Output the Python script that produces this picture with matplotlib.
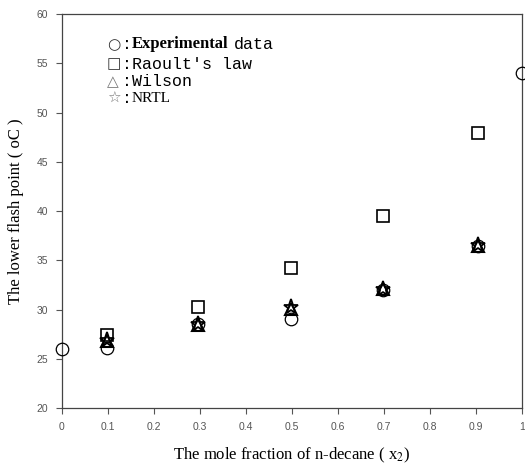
import matplotlib.pyplot as plt

plt.rcParams['mathtext.fontset'] = 'stix'

# data
x_exp = [0.0, 0.097, 0.295, 0.497, 0.697, 0.904, 1.0]
y_exp = [26.0, 26.1, 28.5, 29.0, 32.0, 36.5, 54.0]

x_calc = [0.097, 0.295, 0.497, 0.697, 0.904]
y_raoult = [27.4, 30.3, 34.2, 39.5, 47.9]
y_wilson = [26.8, 28.4, 30.1, 32.1, 36.5]
y_nrtl = [26.9, 28.5, 30.3, 32.1, 36.6]

xticks = [0, 0.1, 0.2, 0.3, 0.4, 0.5, 0.6, 0.7, 0.8, 0.9, 1]
xtick_labels = ['0', '0.1', '0.2', '0.3', '0.4', '0.5', '0.6', '0.7', '0.8', '0.9', '1']
yticks = [20, 25, 30, 35, 40, 45, 50, 55, 60]

fig = plt.figure(figsize=(5.25, 4.69), dpi=100)
ax = fig.add_axes([0.118, 0.130, 0.876, 0.840])

ax.plot(x_exp, y_exp, 'o', ms=9, mfc='none', mec='black', mew=0.9, clip_on=False, zorder=3)
ax.plot(x_calc, y_raoult, 's', ms=9, mfc='none', mec='black', mew=1.2, clip_on=False, zorder=3)
ax.plot(x_calc, y_wilson, '^', ms=8, mfc='none', mec='black', mew=1.5, zorder=4)
ax.plot(x_calc, y_nrtl, '*', ms=11, mfc='none', mec='black', mew=1.3, zorder=4)

ax.set_xlim(0, 1)
ax.set_ylim(20, 60)
ax.set_xticks(xticks)
ax.set_xticklabels(xtick_labels)
ax.set_yticks(yticks)
ax.tick_params(direction='out', length=4, width=0.8, color='#555555',
               labelsize=7.5, labelcolor='#555555', pad=6)
for lab in ax.get_xticklabels() + ax.get_yticklabels():
    lab.set_family('Liberation Sans')
for sp in ax.spines.values():
    sp.set_color('#444444')
    sp.set_linewidth(0.9)

ax.set_xlabel('The mole fraction of n-decane ( x$_2$)', family='Liberation Serif',
              fontsize=12, labelpad=10)
ax.set_ylabel('The lower flash point ( oC )', family='Liberation Serif',
              fontsize=12, labelpad=9)

# text legend
lx, ly = 0.098, [0.923, 0.873, 0.829, 0.786]
symbols = ['○', '□', '△', '☆']
sym_colors = ['#333333', '#333333', '#777777', '#777777']
for s, c, y in zip(symbols, sym_colors, ly):
    ax.text(lx, y, s, fontsize=11, family=['DejaVu Sans'], transform=ax.transAxes,
            va='center', color=c)

tx = 0.130
t0 = ax.text(tx, ly[0], ':', fontsize=12, family='Liberation Mono',
             transform=ax.transAxes, va='center')
t1 = ax.annotate('Experimental', xy=(1, 0.5), xycoords=t0, xytext=(0, 0),
                 textcoords='offset points', va='center', fontsize=12,
                 family='Liberation Serif', weight='bold')
ax.annotate('data', xy=(1, 0.5), xycoords=t1, xytext=(4, 0),
            textcoords='offset points', va='center', fontsize=12,
            family='Liberation Mono')
ax.text(tx, ly[1], ":Raoult's law", fontsize=12, family='Liberation Mono',
        transform=ax.transAxes, va='center')
ax.text(tx, ly[2], ':Wilson', fontsize=12, family='Liberation Mono',
        transform=ax.transAxes, va='center')
t3 = ax.text(tx, ly[3], ':', fontsize=12, family='Liberation Mono',
             transform=ax.transAxes, va='center')
ax.annotate('NRTL', xy=(1, 0.5), xycoords=t3, xytext=(0, 0),
            textcoords='offset points', va='center', fontsize=11,
            family='Liberation Serif')

fig.savefig('out.png', dpi=100)
